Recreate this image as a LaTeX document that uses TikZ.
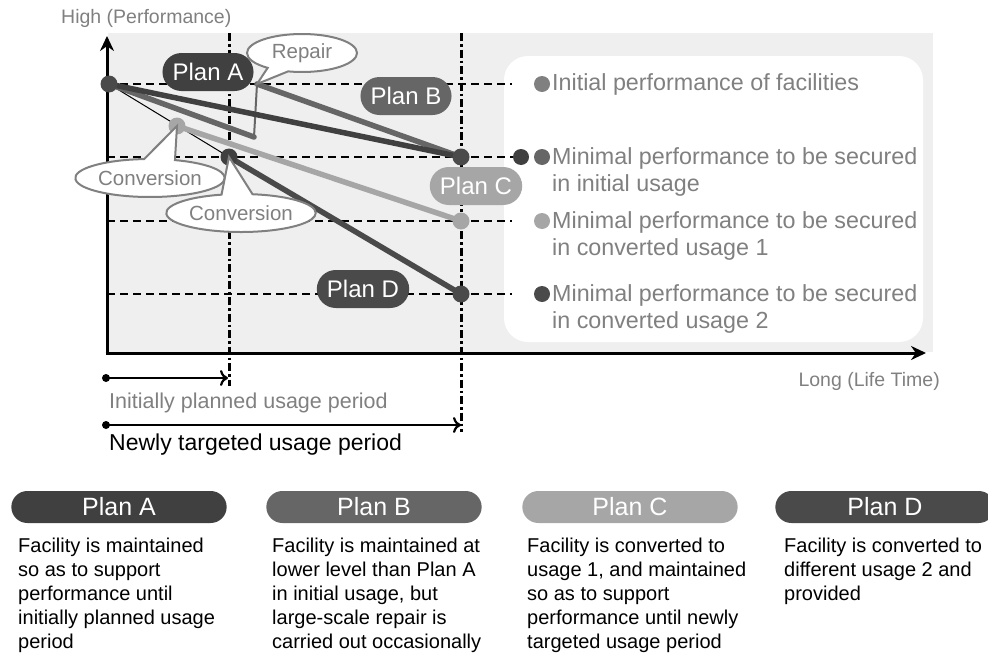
\documentclass[tikz,border=0pt]{standalone}
\usepackage{fontspec}
\setmainfont{Liberation Sans}
\usetikzlibrary{arrows.meta,shapes.misc,shapes.callouts}
\definecolor{bggray}{HTML}{EFEFEF}
\definecolor{cA}{HTML}{404040}
\definecolor{cB}{HTML}{666666}
\definecolor{cC}{HTML}{A6A6A6}
\definecolor{cD}{HTML}{4A4A4A}
\definecolor{txtgray}{HTML}{808080}
\tikzset{
  dotnode/.style={circle,fill=#1,minimum size=17pt,inner sep=0pt},
  legdot/.style={circle,fill=#1,minimum size=16pt,inner sep=0pt},
  planline/.style={line width=5.5pt,draw=#1,line cap=round},
  hdash/.style={line width=2.8pt,dash pattern=on 8pt off 5pt},
  vdash/.style={line width=3pt,dash pattern=on 8pt off 3pt on 2.5pt off 3pt},
  pill/.style={rounded rectangle,fill=#1,text=white,minimum height=38pt,inner xsep=8pt,font=\fontsize{24}{28}\selectfont},
  bigpill/.style={rounded rectangle,fill=#1,text=white,minimum height=32pt,minimum width=222pt,font=\fontsize{25}{28}\selectfont},
  bubble/.style={ellipse callout,fill=white,draw=txtgray,line width=2pt,text=txtgray,minimum width=110pt,minimum height=38pt,inner sep=1pt,callout pointer arc=24,font=\fontsize{20.5}{24}\selectfont},
  legtext/.style={text=txtgray,align=left,anchor=west,font=\fontsize{23.3}{27.5}\selectfont,inner sep=0pt},
  desc/.style={align=left,anchor=north west,font=\fontsize{20}{24}\selectfont,inner sep=0pt},
}
\begin{document}
\begin{tikzpicture}[x=1pt,y=-1pt]
\useasboundingbox (0,0) rectangle (988,653);
% background panel and legend box
\fill[bggray] (108,33) rectangle (933,352);
\fill[white,rounded corners=24pt] (504,56) rectangle (923,342);
% key coordinates
\coordinate (s) at (109,84);
\coordinate (m0) at (461,157);
\coordinate (m1) at (229,157);
\coordinate (c1) at (177,126);
\coordinate (e1) at (461,221);
\coordinate (e2) at (461,294);
\coordinate (rb) at (254,137);
\coordinate (rt) at (257,84);
% guide lines
\draw[hdash] (107,84) -- (512,84);
\draw[hdash] (107,157) -- (514,157);
\draw[hdash] (107,221) -- (512,221);
\draw[hdash] (107,294) -- (512,294);
\coordinate (v1t) at (229,33);
\coordinate (v1b) at (229,386);
\coordinate (v2t) at (461,33);
\coordinate (v2b) at (461,432);
\draw[vdash] (v1t) -- (v1b);
\draw[vdash] (v2t) -- (v2b);
% axes
\coordinate (o) at (107,353);
\coordinate (ytop) at (107,36);
\coordinate (xend) at (926,353);
\draw[line width=3pt,-{Stealth[length=15pt,width=14pt]}] (o) -- (ytop);
\draw[line width=3pt,-{Stealth[length=15pt,width=14pt]}] ([xshift=-1.5pt]o) -- (xend);
% plan lines
\draw[line width=1pt] (s) -- (m1);
\draw[planline=cB] (s) -- (rb);
\draw[line width=2pt,draw=cB] (rb) -- (rt);
\draw[planline=cB] (rt) -- (m0);
\draw[planline=cA] (s) -- (m0);
\draw[planline=cC] (c1) -- (e1);
\draw[planline=cD] (m1) -- (e2);
% dots
\node[dotnode=cD] (ds) at (s) {};
\node[dotnode=cD] (dm0) at (m0) {};
\node[dotnode=cA] (dm1) at (m1) {};
\node[dotnode=cC] (dc1) at (c1) {};
\node[dotnode=cC] (de1) at (e1) {};
\node[dotnode=cD] (de2) at (e2) {};
% plan labels
\node[pill=cA] (pA) at (208,72) {Plan A};
\node[pill=cB] (pB) at (406,96) {Plan B};
\node[pill=cC] (pC) at (476,186) {Plan C};
\node[pill=cD] (pD) at (363,289) {Plan D};
% callouts
\node[bubble,callout absolute pointer={(rt)}] (rep) at (302,53) {Repair};
\node[bubble,callout absolute pointer={(c1)}] (cv1) at (150,178) {Conversion};
\node[bubble,minimum width=114pt,callout absolute pointer={(m1)}] (cv2) at (241,213) {Conversion};
% axis labels
\node[text=txtgray,anchor=west,font=\fontsize{19.5}{22}\selectfont,inner sep=0pt] (ylab) at (61,18) {High (Performance)};
\node[text=txtgray,anchor=east,font=\fontsize{19.5}{22}\selectfont,inner sep=0pt] (xlab) at (940,381) {Long (Life Time)};
% legend
\node[legdot=txtgray] (l1) at (542,84) {};
\node[legtext] (t1) at (552,84) {Initial performance of facilities};
\node[legdot=cA] (l2a) at (521,157) {};
\node[legdot=cB] (l2) at (542,157) {};
\node[legtext] (t2) at (552,172) {Minimal performance to be secured\\in initial usage};
\node[legdot=cC] (l3) at (542,221) {};
\node[legtext] (t3) at (552,236) {Minimal performance to be secured\\in converted usage 1};
\node[legdot=cD] (l4) at (542,294) {};
\node[legtext] (t4) at (552,309) {Minimal performance to be secured\\in converted usage 2};
% periods
\node[circle,fill=black,minimum size=8pt,inner sep=0pt] (p1s) at (106,378) {};
\coordinate (p1e) at (228,378);
\draw[line width=2.5pt,-{To[length=8pt,width=16pt,line width=2.2pt]}] (p1s.center) -- (p1e);
\node[text=txtgray,anchor=west,font=\fontsize{21.5}{24}\selectfont,inner sep=0pt] (p1t) at (109,403) {Initially planned usage period};
\node[circle,fill=black,minimum size=8pt,inner sep=0pt] (p2s) at (106,425) {};
\coordinate (p2e) at (461,425);
\draw[line width=2.5pt,-{To[length=8pt,width=16pt,line width=2.2pt]}] (p2s.center) -- (p2e);
\node[anchor=west,font=\fontsize{23}{26}\selectfont,inner sep=0pt] (p2t) at (109,445) {Newly targeted usage period};
% bottom plans
\node[bigpill=cA] (bA) at (119,507) {Plan A};
\node[bigpill=cB] (bB) at (374,507) {Plan B};
\node[bigpill=cC] (bC) at (630,507) {Plan C};
\node[bigpill=cD,minimum width=226pt] (bD) at (885,507) {Plan D};
\node[desc] (dA) at (18,538) {Facility is maintained\\so as to support\\performance until\\initially planned usage\\period};
\node[desc] (dB) at (272,538) {Facility is maintained at\\lower level than Plan A\\in initial usage, but\\large-scale repair is\\carried out occasionally};
\node[desc] (dC) at (527,538) {Facility is converted to\\usage 1, and maintained\\so as to support\\performance until newly\\targeted usage period};
\node[desc] (dD) at (784,538) {Facility is converted to\\different usage 2 and\\provided};
\end{tikzpicture}
\end{document}
